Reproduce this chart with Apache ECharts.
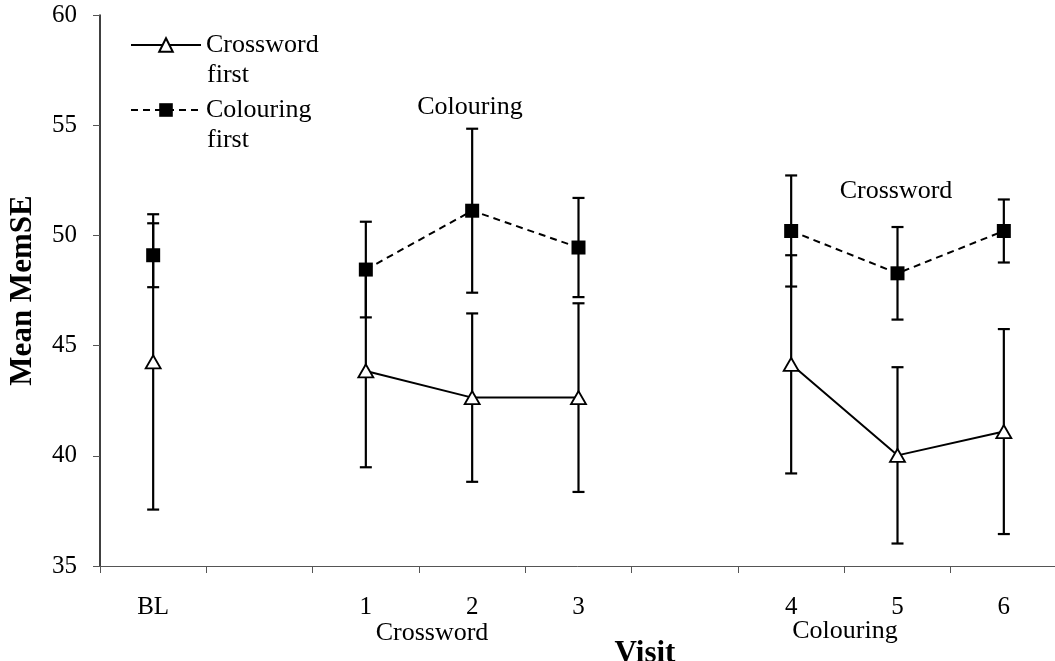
<!DOCTYPE html>
<html>
<head>
<meta charset="utf-8">
<script src="https://cdn.jsdelivr.net/npm/echarts@6/dist/echarts.min.js"></script>
<style>
  html, body { margin: 0; padding: 0; background: #fff; }
  #chart { width: 1055px; height: 661px; }
</style>
</head>
<body>
<div id="chart"></div>
<script>
// ---- data ----
const categories = ['BL', '', '1', '2', '3', '', '4', '5', '6'];
const yTicks = [35, 40, 45, 50, 55, 60];
const crosswordMean = [44.26, null, 43.85, 42.64, 42.64, null, 44.15, 40.02, 41.10];
const crosswordErr  = [6.70,  null, 4.37,  3.82,  4.28,  null, 4.95,  4.00,  4.65];
const colouringMean = [49.10, null, 48.45, 51.12, 49.45, null, 50.20, 48.28, 50.20];
const colouringErr  = [1.45,  null, 2.17,  3.72,  2.25,  null, 2.52,  2.10,  1.43];
const seriesNames = ['Crossword first', 'Colouring first'];
const legendLabels = ['Crossword', 'Colouring'];
const legendSecondLine = 'first';
const phaseLabels = ['Crossword', 'Colouring'];   // under visits 1-3 and 4-6
const phaseNotes = ['Colouring', 'Crossword'];    // above visit 2 and visit 5
const xTitle = 'Visit';
const yTitle = 'Mean MemSE';

const FONT = "'Liberation Serif', 'Times New Roman', serif";

function errData(mean, err) {
  const out = [];
  mean.forEach((m, i) => {
    if (m !== null && err[i] !== null) out.push([i, m - err[i], m + err[i]]);
  });
  return out;
}

function renderErr(params, api) {
  const x = api.value(0);
  const pLo = api.coord([x, api.value(1)]);
  const pHi = api.coord([x, api.value(2)]);
  const w = 6;
  const st = { stroke: '#000', lineWidth: 2.2 };
  return {
    type: 'group',
    children: [
      { type: 'line', shape: { x1: pLo[0], y1: pLo[1], x2: pHi[0], y2: pHi[1] }, style: st },
      { type: 'line', shape: { x1: pLo[0] - w, y1: pLo[1], x2: pLo[0] + w, y2: pLo[1] }, style: st },
      { type: 'line', shape: { x1: pHi[0] - w, y1: pHi[1], x2: pHi[0] + w, y2: pHi[1] }, style: st }
    ]
  };
}

const chart = echarts.init(document.getElementById('chart'), null, { renderer: 'canvas' });

const option = {
  animation: false,
  backgroundColor: '#fff',
  grid: { left: 100, top: 15, width: 957, height: 551, containLabel: false, outerBoundsMode: 'none' },
  legend: {
    data: seriesNames,
    orient: 'vertical',
    left: 130,
    top: 32,
    padding: 0,
    itemWidth: 70,
    itemHeight: 17,
    itemGap: 39,
    formatter: function (name) { return legendLabels[seriesNames.indexOf(name)]; },
    textStyle: { fontFamily: FONT, fontSize: 26, color: '#000', lineHeight: 26 }
  },
  xAxis: {
    type: 'category',
    data: categories,
    boundaryGap: true,
    axisLine: { show: true, lineStyle: { color: '#555', width: 1 } },
    axisTick: { show: true, length: 7, lineStyle: { color: '#555', width: 1 } },
    axisLabel: { fontFamily: FONT, fontSize: 25, color: '#000', margin: 29, interval: 0 },
    splitLine: { show: false }
  },
  yAxis: {
    type: 'value',
    min: yTicks[0],
    max: yTicks[yTicks.length - 1],
    interval: 5,
    name: yTitle,
    nameLocation: 'middle',
    nameGap: 62,
    nameTextStyle: { fontFamily: FONT, fontSize: 31, fontWeight: 'bold', color: '#000' },
    axisLine: { show: true, lineStyle: { color: '#000', width: 1.5 } },
    axisTick: { show: true, length: 7, lineStyle: { color: '#555', width: 1 } },
    axisLabel: { fontFamily: FONT, fontSize: 25, color: '#000', margin: 23 },
    splitLine: { show: false }
  },
  series: [
    {
      type: 'custom',
      name: 'err-crossword',
      renderItem: renderErr,
      data: errData(crosswordMean, crosswordErr),
      z: 1,
      silent: true
    },
    {
      type: 'custom',
      name: 'err-colouring',
      renderItem: renderErr,
      data: errData(colouringMean, colouringErr),
      z: 1,
      silent: true
    },
    {
      type: 'line',
      name: seriesNames[0],
      data: crosswordMean,
      connectNulls: false,
      symbol: 'triangle',
      symbolSize: [15, 13],
      showAllSymbol: true,
      lineStyle: { color: '#000', width: 2, type: 'solid' },
      itemStyle: { color: '#fff', borderColor: '#000', borderWidth: 1.8 },
      z: 3
    },
    {
      type: 'line',
      name: seriesNames[1],
      data: colouringMean,
      connectNulls: false,
      symbol: 'rect',
      symbolSize: 14,
      showAllSymbol: true,
      lineStyle: { color: '#000', width: 2, type: [7, 5] },
      itemStyle: { color: '#000', borderColor: '#000', borderWidth: 0 },
      z: 3
    }
  ],
  graphic: [
    { type: 'text', left: 207, top: 62, style: { text: legendSecondLine, font: '26px ' + FONT, fill: '#000' } },
    { type: 'text', left: 207, top: 127, style: { text: legendSecondLine, font: '26px ' + FONT, fill: '#000' } },
    { type: 'text', x: 470, y: 107, style: { text: phaseNotes[0], font: '26px ' + FONT, fill: '#000', align: 'center', verticalAlign: 'middle' } },
    { type: 'text', x: 896, y: 191, style: { text: phaseNotes[1], font: '26px ' + FONT, fill: '#000', align: 'center', verticalAlign: 'middle' } },
    { type: 'text', x: 432, y: 633, style: { text: phaseLabels[0], font: '26px ' + FONT, fill: '#000', align: 'center', verticalAlign: 'middle' } },
    { type: 'text', x: 845, y: 631, style: { text: phaseLabels[1], font: '26px ' + FONT, fill: '#000', align: 'center', verticalAlign: 'middle' } },
    { type: 'text', x: 645, y: 654, style: { text: xTitle, font: 'bold 31px ' + FONT, fill: '#000', align: 'center', verticalAlign: 'middle' } }
  ]
};

chart.setOption(option);
</script>
</body>
</html>
